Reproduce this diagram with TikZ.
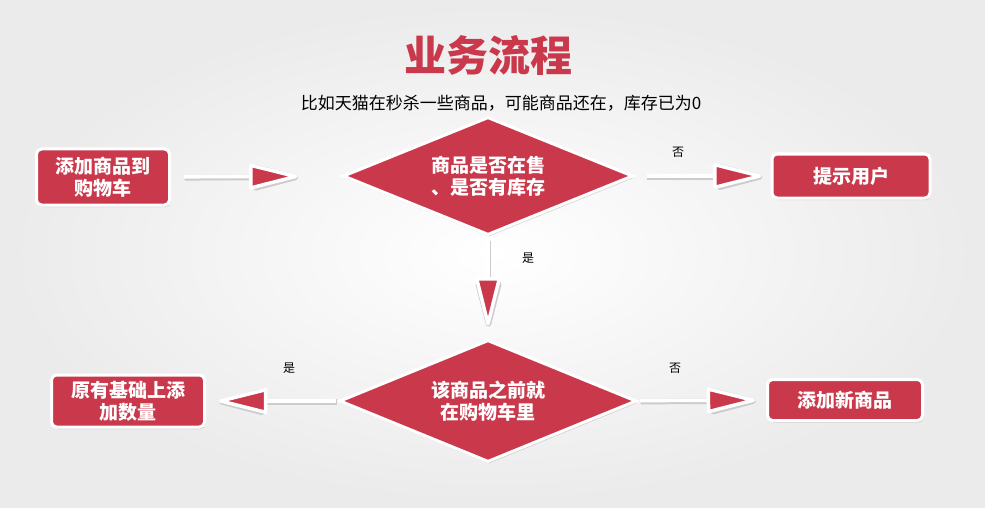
\documentclass[tikz,border=0pt]{standalone}
\usepackage{fontspec}
\setmainfont{Noto Sans CJK SC}
\usetikzlibrary{shapes.geometric,arrows.meta,shadows}
\definecolor{mkred}{RGB}{201,57,75}
\begin{document}
\begin{tikzpicture}[x=1pt, y=-1pt,
  box/.style={rectangle, rounded corners=5pt, fill=mkred, draw=white, line width=3pt, text=white, align=center, inner sep=0pt, font=\fontsize{19}{22}\selectfont\bfseries, drop shadow={opacity=0.3, shadow xshift=1pt, shadow yshift=-2pt}},
  test/.style={diamond, aspect=2.5, fill=mkred, draw=white, line width=3pt, text=white, align=center, inner sep=0pt, font=\fontsize{19}{22}\selectfont\bfseries, drop shadow={opacity=0.3, shadow xshift=1pt, shadow yshift=-2pt}},
  flow/.style={draw=white, line width=3.5pt, preaction={draw=black!20, line width=5.5pt, transform canvas={xshift=0.5pt, yshift=-1pt}}, -{Triangle[length=54pt, width=26pt, fill=mkred, round]}},
  tag/.style={font=\fontsize{12}{14}\selectfont}]
\shade [inner color=white, outer color=black!8] (0,0) rectangle (985,508);
\node [text=mkred, font=\fontsize{42}{46}\selectfont\bfseries] (title) at (488,55) {业务流程};
\node [font=\fontsize{17}{20}\selectfont] (note) at (501,103) {比如天猫在秒杀一些商品，可能商品还在，库存已为0};
\node [box, minimum width=133pt, minimum height=56pt] (add) at (103,177) {添加商品到\\购物车};
\node [test, minimum width=290pt, minimum height=118pt] (onsale) at (488,176) {商品是否在售\\、是否有库存};
\node [box, minimum width=158pt, minimum height=44pt] (hint) at (851,176) {提示用户};
\node [test, minimum width=297pt, minimum height=122pt] (incart) at (488,401) {该商品之前就\\在购物车里};
\node [box, minimum width=155pt, minimum height=41pt] (addnew) at (845,400) {添加新商品};
\node [box, minimum width=153pt, minimum height=52pt] (addqty) at (128,401) {原有基础上添\\加数量};
\draw [flow, shorten <=13pt, shorten >=45pt] (add) -- (onsale);
\draw [flow, shorten <=12pt, shorten >=9pt] (onsale) -- (hint);
\draw [flow, shorten <=3pt, shorten >=13pt] (onsale) -- (incart);
\draw [flow, shorten <=3pt, shorten >=11pt] (incart) -- (addnew);
\draw [flow, shorten <=2pt, shorten >=13pt] (incart) -- (addqty);
\node [tag] (no1) at (678,152) {否};
\node [tag] (yes1) at (528,258) {是};
\node [tag] (no2) at (675,368) {否};
\node [tag] (yes2) at (289,368) {是};
\end{tikzpicture}
\end{document}
